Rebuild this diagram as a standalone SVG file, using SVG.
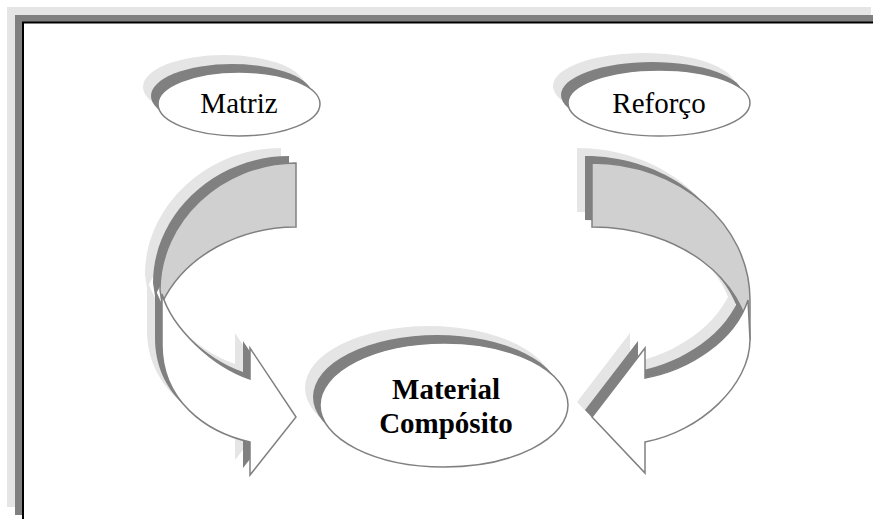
<svg xmlns="http://www.w3.org/2000/svg" xmlns:xlink="http://www.w3.org/1999/xlink" width="873" height="519" viewBox="0 0 873 519">
<style>
.lt{fill:#e5e5e5;stroke:none}
.dk{fill:#808080;stroke:none}
.back{fill:#d0d0d0;stroke:#808080;stroke-width:1.5;stroke-linejoin:miter}
.front{fill:#ffffff;stroke:#808080;stroke-width:1.5;stroke-linejoin:miter}
.ell{fill:#ffffff;stroke:#808080;stroke-width:1.5}
.lbl{font-family:"Liberation Serif","Times New Roman",serif;font-size:29px;fill:#000;text-anchor:middle}
.bold{font-weight:bold}
</style>
<defs>
<path id="lback" d="M296,163 C221,163 160,222 160,290 L162,303 C185,255 240,227 296,227 Z"/>
<path id="lfront" d="M162,294 C172,328 212,366 250,379 L250,348 L296,417 L250,475 L250,442 C205,432 162,400 162,345 Z"/>
<path id="rback" d="M592,163 C679,163 750,224 750,300 L750,340 C745,280 680,227 592,227 Z"/>
<path id="rfront" d="M748,300 C735,340 690,370 645,378 L645,348 L592,417 L645,473 L645,442 C700,432 750,385 750,340 Z"/>
<ellipse id="e1" cx="239" cy="104" rx="81" ry="32"/>
<ellipse id="e2" cx="659" cy="103" rx="91" ry="33"/>
<ellipse id="e3" cx="444" cy="405" rx="124" ry="62"/>
</defs>
<g id="frame">
<rect x="7" y="7" width="864" height="500" fill="#e5e5e5"/>
<rect x="15" y="15" width="870" height="500" fill="#808080"/>
<rect x="23" y="22.5" width="900" height="600" fill="#ffffff" stroke="#000000" stroke-width="2"/>
</g>
<g id="connectors">
<g id="arrow-left">
<use xlink:href="#lback" class="lt" transform="translate(-15,-15)"/>
<use xlink:href="#lfront" class="lt" transform="translate(-15,-15)"/>
<use xlink:href="#lback" class="dk" transform="translate(-7,-7)"/>
<use xlink:href="#lfront" class="dk" transform="translate(-7,-7)"/>
<use xlink:href="#lback" class="back"/>
<use xlink:href="#lfront" class="front"/>
</g>
<g id="arrow-right">
<use xlink:href="#rback" class="lt" transform="translate(-15,-15)"/>
<use xlink:href="#rfront" class="lt" transform="translate(-15,-15)"/>
<use xlink:href="#rback" class="dk" transform="translate(-7,-7)"/>
<use xlink:href="#rfront" class="dk" transform="translate(-7,-7)"/>
<use xlink:href="#rback" class="back"/>
<use xlink:href="#rfront" class="front"/>
</g>
</g>
<g id="node-matriz">
<use xlink:href="#e1" class="lt" transform="translate(-15,-17)"/>
<use xlink:href="#e1" class="dk" transform="translate(-7,-8)"/>
<use xlink:href="#e1" class="ell"/>
<text class="lbl" x="239" y="113">Matriz</text>
</g>
<g id="node-reforco">
<use xlink:href="#e2" class="lt" transform="translate(-15,-17)"/>
<use xlink:href="#e2" class="dk" transform="translate(-7,-8)"/>
<use xlink:href="#e2" class="ell"/>
<text class="lbl" x="659" y="113">Reforço</text>
</g>
<g id="node-material">
<use xlink:href="#e3" class="lt" transform="translate(-15,-17)"/>
<use xlink:href="#e3" class="dk" transform="translate(-7,-8)"/>
<use xlink:href="#e3" class="ell"/>
<text class="lbl bold" x="446" y="399">Material</text>
<text class="lbl bold" x="446" y="433">Compósito</text>
</g>
</svg>
